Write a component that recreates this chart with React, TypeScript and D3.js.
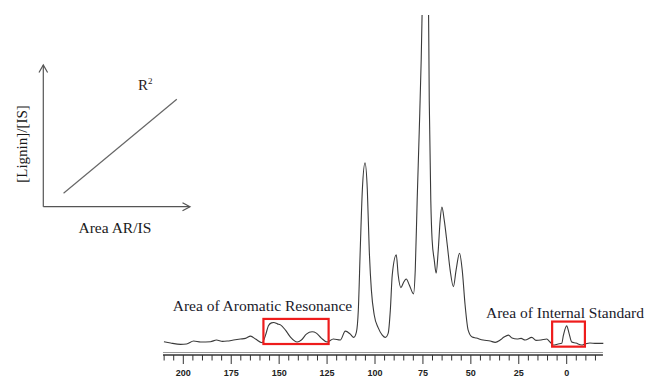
import React from "react";
import * as d3 from "d3";

// Spectrum (chemical shift in ppm, relative intensity)
const ppm = [
  210.1, 206.6, 201.4, 198.3, 194.6, 191.0, 185.8, 182.7, 179.5, 177.1,
  173.8, 170.2, 167.6, 164.9, 162.3, 158.9, 157.1, 155.6, 154.0, 152.8,
  150.9, 149.3, 146.7, 144.1, 140.6, 138.4, 135.8, 132.8, 130.6, 128.0,
  125.0, 121.7, 118.1, 115.5, 112.9, 111.1, 109.7, 108.7, 107.7, 106.6,
  105.2, 104.0, 103.0, 101.9, 100.4, 98.3, 96.2, 94.6, 93.1, 92.0,
  91.0, 88.9, 87.9, 86.5, 85.0, 83.7, 82.1, 79.9, 79.0, 78.0,
  76.9, 75.9, 75.1, 73.6, 72.2, 71.7, 70.9, 70.2, 69.1, 68.1,
  67.0, 66.0, 65.1, 63.9, 62.3, 60.8, 59.1, 57.7, 55.9, 54.5,
  53.0, 51.4, 49.3, 47.2, 43.6, 39.9, 37.3, 34.7, 32.7, 30.4,
  28.5, 25.9, 23.8, 21.7, 18.2, 16.0, 13.4, 10.4, 8.7, 7.0,
  4.5, 2.6, 1.7, 0.0, -1.2, -2.6, -4.8, -7.8, -9.5, -12.1,
  -15.3, -19.1,
];
const intensity = [
  1.0, 0.6, 0.2, 0.3, 1.2, 0.9, 1.0, 1.5, 1.1, 1.2,
  1.5, 1.8, 2.0, 2.7, 1.8, 0.7, 3.0, 5.8, 6.7, 6.8,
  6.4, 6.1, 4.5, 2.4, 0.9, 1.5, 3.3, 4.0, 3.6, 2.1,
  0.9, 1.8, 1.5, 4.2, 3.3, 2.3, 3.9, 10.6, 28.8, 47.0,
  55.2, 47.0, 28.8, 16.7, 9.1, 5.2, 3.0, 2.3, 3.6, 10.6,
  21.2, 27.3, 21.2, 17.4, 19.1, 20.0, 18.2, 15.5, 22.7, 43.9,
  65.2, 86.4, 110, 130, 110, 74.2, 43.9, 31.8, 25.8, 21.8,
  28.8, 37.9, 41.8, 37.9, 30.3, 22.7, 17.7, 22.7, 27.8, 22.7,
  12.1, 4.5, 2.4, 2.1, 1.5, 1.2, 0.8, 1.5, 2.4, 3.0,
  2.1, 1.8, 2.0, 1.5, 2.3, 1.4, 1.5, 1.8, 0.9, 0.0,
  0.3, 0.5, 3.0, 5.8, 3.6, 0.9, 0.6, 0.0, 0.3, 0.6,
  0.5, 0.5,
];

// Axis
const tickValues = d3.range(210, -16, -5);
const tickLabels = [200, 175, 150, 125, 100, 75, 50, 25, 0];
const axisDomain = [210.6, -18.9];

// Annotation boxes: [ppmStart, ppmEnd], [intensityTop, intensityBottom]
const boxLabels = ["Area of Aromatic Resonance", "Area of Internal Standard"];
const boxPpm = [
  [158.2, 124.2],
  [7.6, -9.5],
];
const boxInt = [
  [7.9, 0.3],
  [7.1, -0.5],
];

// Inset schematic
const insetLine = [
  [1.38, 0.95],
  [9.1, 7.58],
];
const insetXLabel = "Area AR/IS";
const insetYLabel = "[Lignin]/[IS]";

export default function App() {
  const W = 648;
  const H = 377;
  const x = d3.scaleLinear().domain([0, 200]).range([566.7, 183.3]);
  const y = d3.scaleLinear().domain([0, 100]).range([345, 15]);
  const data = ppm.map((p, i) => [p, intensity[i]] as [number, number]);
  const line = d3
    .line<[number, number]>()
    .x((d) => x(d[0]))
    .y((d) => y(d[1]))
    .curve(d3.curveMonotoneX);

  const axisY = 355;
  const serif = "'Liberation Serif', 'Times New Roman', serif";

  // inset scales
  const ix = d3.scaleLinear().domain([0, 10]).range([43.3, 190]);
  const iy = d3.scaleLinear().domain([0, 10]).range([206.7, 65]);

  return (
    <svg
      width={W}
      height={H}
      style={{ position: "absolute", left: 0, top: 0, background: "#fff" }}
    >
      <defs>
        <clipPath id="plotclip">
          <rect x={0} y={15} width={W} height={H - 15} />
        </clipPath>
      </defs>

      {/* Inset */}
      <g stroke="#555" fill="none" strokeWidth={1.2}>
        <line x1={ix(0)} y1={iy(0)} x2={ix(0)} y2={iy(10)} />
        <polyline
          points={`${ix(0) - 4.3},${iy(10) + 7.5} ${ix(0)},${iy(10)} ${ix(0) + 4.3},${iy(10) + 7.5}`}
        />
        <line x1={ix(0)} y1={iy(0)} x2={ix(10)} y2={iy(0)} />
        <polyline
          points={`${ix(10) - 7.5},${iy(0) - 4} ${ix(10)},${iy(0)} ${ix(10) - 7.5},${iy(0) + 4}`}
        />
        <line
          x1={ix(insetLine[0][0])}
          y1={iy(insetLine[0][1])}
          x2={ix(insetLine[1][0])}
          y2={iy(insetLine[1][1])}
          stroke="#666"
        />
      </g>
      <text x={138} y={90} fontFamily={serif} fontSize={15} fill="#2a1a1a">
        R<tspan dy={-6} fontSize={9}>2</tspan>
      </text>
      <text x={78.5} y={232.5} fontFamily={serif} fontSize={15.5} fill="#1a1a1a">
        {insetXLabel}
      </text>
      <text
        transform="translate(27,144) rotate(-90)"
        textAnchor="middle"
        fontFamily={serif}
        fontSize={15}
        fill="#1a1a1a"
      >
        {insetYLabel}
      </text>

      {/* Spectrum */}
      <g clipPath="url(#plotclip)">
        <path d={line(data) || ""} fill="none" stroke="#3a3a3a" strokeWidth={1.1} />
      </g>

      {/* Boxes */}
      {boxPpm.map((b, i) => (
        <rect
          key={i}
          x={x(b[0])}
          y={y(boxInt[i][0])}
          width={x(b[1]) - x(b[0])}
          height={y(boxInt[i][1]) - y(boxInt[i][0])}
          fill="none"
          stroke="#ee1c1c"
          strokeWidth={2.2}
        />
      ))}
      <text x={172.7} y={311} fontFamily={serif} fontSize={15.5} fill="#1a1a2a">
        {boxLabels[0]}
      </text>
      <text x={486} y={317.7} fontFamily={serif} fontSize={15.5} fill="#1a1a2a">
        {boxLabels[1]}
      </text>

      {/* Axis */}
      <line x1={x(axisDomain[0])} x2={x(axisDomain[1])} y1={axisY - 2.5} y2={axisY - 2.5} stroke="#999" strokeWidth={1} />
      <line x1={x(axisDomain[0])} x2={x(axisDomain[1])} y1={axisY} y2={axisY} stroke="#333" strokeWidth={1.6} />
      {tickValues.map((t) => {
        const major = tickLabels.includes(t);
        return (
          <line
            key={t}
            x1={x(t)}
            x2={x(t)}
            y1={axisY}
            y2={axisY + (major ? 9 : 5.5)}
            stroke="#333"
            strokeWidth={1}
          />
        );
      })}
      {tickLabels.map((t) => (
        <text
          key={t}
          x={x(t)}
          y={376}
          textAnchor="middle"
          fontFamily="'Liberation Sans', Arial, sans-serif"
          fontWeight="bold"
          fontSize={9}
          fill="#222"
        >
          {t}
        </text>
      ))}
    </svg>
  );
}
